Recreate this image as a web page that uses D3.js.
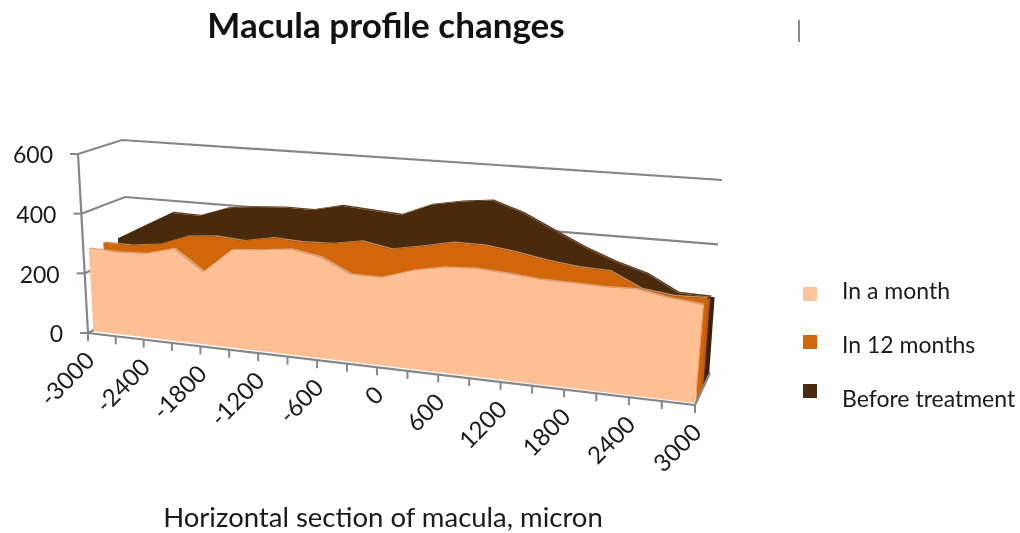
<!DOCTYPE html>
<html>
<head>
<meta charset="utf-8">
<script src="https://cdn.jsdelivr.net/npm/d3@7"></script>
<style>
  html, body { margin: 0; padding: 0; background: #fff; }
  svg { display: block; filter: blur(0.5px); }
  text { font-family: Lato, "Open Sans", sans-serif; fill: #1a1a1a; }
</style>
</head>
<body>
<script>
var categories = [-3000, -2700, -2400, -2100, -1800, -1500, -1200, -900, -600, -300, 0, 300, 600, 900, 1200, 1500, 1800, 2100, 2400, 2700, 3000];
var xLabels = [-3000, -2400, -1800, -1200, -600, 0, 600, 1200, 1800, 2400, 3000];
var yTicks = [0, 200, 400, 600];
var inAMonth = [283, 279, 283, 308, 241, 321, 329, 340, 323, 278, 277, 308, 326, 331, 325, 316, 314, 311, 313, 296, 286];
var in12Months = [283, 281, 293, 328, 337, 330, 348, 343, 346, 362, 345, 362, 382, 382, 369, 352, 340, 336, 291, 279, 282];
var beforeTreatment = [277, 328, 380, 378, 411, 422, 429, 428, 450, 442, 435, 475, 493, 503, 471, 424, 379, 342, 314, 264, 262];
var seriesNames = ["In a month", "In 12 months", "Before treatment"];

var width = 1020, height = 533;
var svg = d3.select("body").append("svg").attr("width", width).attr("height", height);

// the 3d box: [x, y] of floor and 600 level at the 4 corners
var box = {
  frontLeft: { floor: [88, 333], top: [78, 154] },
  frontRight: { floor: [695, 405], top: [712, 195] },
  backLeft: { floor: [131, 311], top: [122, 140] },
  backRight: { floor: [710, 373], top: [722, 180] }
};

var across = d3.scaleLinear().domain([-3000, 3000]).range([0, 1]);
var up = d3.scaleLinear().domain([0, 600]).range([0, 1]);
var k = 1.1; // perspective, ticks get wider to the right

function lerp(a, b, t) { return [a[0] + (b[0] - a[0]) * t, a[1] + (b[1] - a[1]) * t]; }

function persp(cat) {
  var u = across(cat);
  return u / (u + k * (1 - u));
}

function project(cat, val, depth) {
  var t = persp(cat);
  var v = up(val);
  var fl = lerp(box.frontLeft.floor, box.frontLeft.top, v);
  var fr = lerp(box.frontRight.floor, box.frontRight.top, v);
  var bl = lerp(box.backLeft.floor, box.backLeft.top, v);
  var br = lerp(box.backRight.floor, box.backRight.top, v);
  return lerp(lerp(fl, fr, t), lerp(bl, br, t), depth);
}

// areas sit a little inside the axis on the left
function areaPoint(cat, val, depth) {
  var p = project(cat, val, depth);
  return [p[0] + 5.5 * (1 - persp(cat)), val === 0 ? p[1] - 2 : p[1]];
}

var line = d3.line();
var gridColor = "#868686";

// gridlines on the walls and the floor edge, mostly hidden behind the areas
yTicks.forEach(function (v) {
  svg.append("path")
    .attr("d", line([project(-3000, v, 0), project(-3000, v, 1), project(3000, v, 1)]))
    .attr("fill", "none").attr("stroke", gridColor).attr("stroke-width", 2.2);
});

var series = [
  { values: beforeTreatment, depth: 2 / 3, from: 0.5, to: 0.95, front: "#4a2a0c", top: "#5e3c1c", side: "#3c2008" },
  { values: in12Months, depth: 1 / 3, from: 0.06, to: 0.55, front: "#d2660a", top: "#c08a58", side: "#c45e08" },
  { values: inAMonth, depth: 0, from: 0, to: 0.06, front: "#fdbf93", top: "#d8a47e", side: "#f0b68c" }
];
var slab = 0.06;

series.forEach(function (s) {
  var g = svg.append("g");
  var last = categories.length - 1;
  var lastVal = s.values[last];
  // top band, runs back from the front face
  var band = categories.map(function (c, i) { return areaPoint(c, s.values[i], s.depth); })
    .concat(categories.map(function (c, i) { return areaPoint(c, s.values[i], s.depth + slab); }).reverse());
  g.append("path").attr("d", line(band) + "Z").attr("fill", s.top);
  // right end, its top stays level with the front face
  var topY = areaPoint(3000, lastVal, s.depth)[1];
  g.append("path")
    .attr("d", line([
      areaPoint(3000, 0, s.from),
      [areaPoint(3000, lastVal, s.from)[0], topY],
      [areaPoint(3000, lastVal, s.to)[0], topY],
      areaPoint(3000, 0, s.to)
    ]) + "Z")
    .attr("fill", s.side);
  // front face
  var face = [areaPoint(-3000, 0, s.depth)]
    .concat(categories.map(function (c, i) { return areaPoint(c, s.values[i], s.depth); }))
    .concat([areaPoint(3000, 0, s.depth)]);
  g.append("path").attr("d", line(face) + "Z").attr("fill", s.front);
});

// value axis
svg.append("path").attr("d", line([project(-3000, 0, 0), project(-3000, 600, 0)]))
  .attr("fill", "none").attr("stroke", gridColor).attr("stroke-width", 2.2);
yTicks.forEach(function (v) {
  var p = project(-3000, v, 0);
  svg.append("path").attr("d", line([[p[0] - 8, p[1]], p]))
    .attr("stroke", gridColor).attr("stroke-width", 2);
  svg.append("text").attr("x", p[0] - 25).attr("y", p[1] + 1).attr("dy", "0.36em")
    .attr("text-anchor", "end").attr("font-size", 23).text(v);
});

// floor, front edge and the right side edge
svg.append("path")
  .attr("d", line([project(-3000, 0, 0), project(3000, 0, 0), project(3000, 0, 1)]))
  .attr("fill", "none").attr("stroke", gridColor).attr("stroke-width", 2.2);
categories.forEach(function (c) {
  var p = project(c, 0, 0);
  svg.append("path").attr("d", line([p, [p[0], p[1] + 8]]))
    .attr("stroke", gridColor).attr("stroke-width", 2);
});
xLabels.forEach(function (c) {
  var p = project(c, 0, 0);
  svg.append("text")
    .attr("transform", "translate(" + (p[0] + 8) + "," + (p[1] + 29) + ") rotate(-45)")
    .attr("text-anchor", "end").attr("font-size", 24).text(c);
});

// titles
svg.append("text").attr("x", 386).attr("y", 38).attr("text-anchor", "middle")
  .attr("font-size", 35).attr("font-weight", "bold").style("fill", "#111").text("Macula profile changes");
svg.append("text").attr("x", 383).attr("y", 527).attr("text-anchor", "middle")
  .attr("font-size", 27.5).text("Horizontal section of macula, micron");
svg.append("path").attr("d", line([[799, 20], [799, 42]])).attr("stroke", "#666").attr("stroke-width", 1.5);

// legend, the swatches and the labels are not spaced alike in the picture
var legendColors = ["#fcc49c", "#d2660a", "#4a2a0c"];
var swatchY = [287, 335, 384];
var labelY = [299, 353, 407];
var legend = svg.selectAll("g.legend").data(seriesNames).enter().append("g").attr("class", "legend");
legend.append("rect").attr("x", 803).attr("y", function (d, i) { return swatchY[i]; })
  .attr("width", 14).attr("height", 14)
  .attr("fill", function (d, i) { return legendColors[i]; });
legend.append("text").attr("x", 842).attr("y", function (d, i) { return labelY[i]; })
  .attr("font-size", 23)
  .text(function (d) { return d; });
</script>
</body>
</html>
